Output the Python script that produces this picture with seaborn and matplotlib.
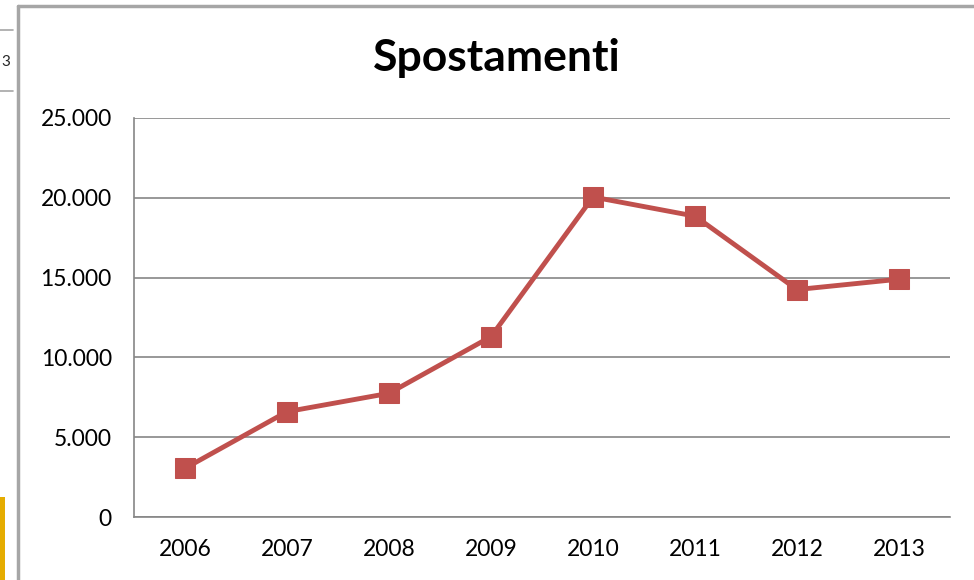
import matplotlib
matplotlib.use("Agg")
import matplotlib.pyplot as plt
import seaborn as sns
import pandas as pd
from matplotlib.lines import Line2D
from matplotlib.patches import Rectangle
from matplotlib.ticker import FuncFormatter, FixedLocator

# data
anni = ['2006', '2007', '2008', '2009', '2010', '2011', '2012', '2013']
spostamenti = [3050, 6600, 7750, 11300, 20050, 18850, 14250, 14900]

df = pd.DataFrame({'anno': anni, 'spostamenti': spostamenti})

sns.set_style('white')
plt.rcParams['font.family'] = ['Lato', 'DejaVu Sans']

W, H = 974, 580
fig = plt.figure(figsize=(W / 100, H / 100), dpi=100)
ax = fig.add_axes([134 / W, 1 - 517 / H, (950 - 134) / W, (517 - 118) / H])

red = '#C0504D'
grey = '#868686'

sns.lineplot(data=df, x='anno', y='spostamenti', ax=ax, color=red,
             linewidth=3.5, marker='s', markersize=14, markeredgecolor=red,
             sort=False)

ax.set_xlim(-0.5, len(anni) - 0.5)
ax.set_ylim(0, 25000)
ax.set_yticks(range(0, 25001, 5000))
ax.yaxis.set_major_formatter(FuncFormatter(lambda v, p: f"{int(v):,}".replace(',', '.')))
ax.xaxis.set_minor_locator(FixedLocator([i - 0.5 for i in range(len(anni) + 1)]))

ax.grid(axis='y', color=grey, linewidth=1.2)
ax.set_axisbelow(True)
for s in ['top', 'right']:
    ax.spines[s].set_visible(False)
for s in ['left', 'bottom']:
    ax.spines[s].set_color(grey)
    ax.spines[s].set_linewidth(1.2)

ax.tick_params(axis='x', which='major', length=0, pad=16, labelsize=16.5, colors='black')
ax.tick_params(axis='x', which='minor', length=8, width=1.2, color=grey, direction='out')
ax.tick_params(axis='y', length=10, width=1.2, color=grey, direction='out', pad=6,
               labelsize=16.5, labelcolor='black')
ax.set_xlabel('')
ax.set_ylabel('')

fig.text(497 / W, 1 - 58 / H, 'Spostamenti', ha='center', va='center',
         fontsize=32, fontweight='bold', color='black')

# chart border and spreadsheet bits on the left
fig.add_artist(Line2D([18 / W, 18 / W], [0, 1 - 6 / H], transform=fig.transFigure,
                      color='#A6A6A6', linewidth=2.5))
fig.add_artist(Line2D([18 / W, 1], [1 - 6 / H, 1 - 6 / H], transform=fig.transFigure,
                      color='#A6A6A6', linewidth=2.5))
for yy in [30, 91]:
    fig.add_artist(Line2D([0, 13 / W], [1 - yy / H, 1 - yy / H], transform=fig.transFigure,
                          color='#A6A6A6', linewidth=1.2))
fig.text(1 / W, 1 - 62 / H, '3', ha='left', va='center', fontsize=11)
fig.add_artist(Rectangle((0, 0), 5 / W, 1 - 497 / H, transform=fig.transFigure,
                         facecolor='#E5AC00', edgecolor='none'))

fig.savefig('out.png', dpi=100)
